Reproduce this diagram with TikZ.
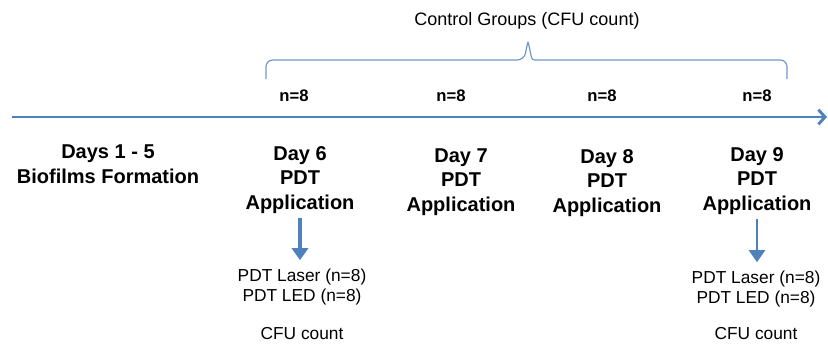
\documentclass[tikz,border=0pt]{standalone}
\usepackage{fontspec}
\setmainfont{Liberation Sans}
\usetikzlibrary{arrows.meta}
\definecolor{lineblue}{RGB}{79,129,189}
\definecolor{braceblue}{RGB}{112,152,204}

\begin{document}
\begin{tikzpicture}[x=0.75pt,y=-0.75pt,
  day/.style={align=center,font=\fontsize{15}{18.5}\selectfont\bfseries},
  small/.style={align=center,font=\fontsize{13}{15}\selectfont},
  count/.style={font=\fontsize{12.5}{14}\selectfont\bfseries},
  timeline/.style={-{Straight Barb[length=5pt,width=11pt]},line width=2.2pt,draw=lineblue},
  down/.style={-{Triangle[length=9pt,width=12pt]},line width=2.4pt,draw=lineblue,shorten >=3pt},
  brace/.style={draw=braceblue,line width=0.9pt,rounded corners=5pt}
]
  \useasboundingbox (0,0) rectangle (828,343);

  % control group bracket
  \node[small,font=\fontsize{13.5}{15}\selectfont] (ctrl) at (527,21) {Control Groups (CFU count)};
  \draw[brace] (266,79) -- (266,60) -- (524,60) [rounded corners=2pt] -- (528,41) -- (532,60) [rounded corners=5pt] -- (787,60) -- (787,79);

  % group sizes above the time axis
  \node[count] (n6) at (294,96) {n=8};
  \node[count] (n7) at (451,96) {n=8};
  \node[count] (n8) at (602,96) {n=8};
  \node[count] (n9) at (757,96) {n=8};

  % time axis
  \coordinate (t0) at (12,117);
  \coordinate (t1) at (827,117);
  \draw[timeline] (t0) -- (t1);

  % days
  \node[day] (d15) at (108,164) {Days 1 - 5\\Biofilms Formation};
  \node[day] (d6) at (300,180) {Day 6\\PDT\\Application};
  \node[day] (d7) at (461,182) {Day 7\\PDT\\Application};
  \node[day] (d8) at (607,183) {Day 8\\PDT\\Application};
  \node[day] (d9) at (757,181) {Day 9\\PDT\\Application};

  % treated groups
  \node[small] (res6) at (302,287) {PDT Laser (n=8)\\PDT LED (n=8)};
  \node[small] (res9) at (756,289) {PDT Laser (n=8)\\PDT LED (n=8)};
  \node[small,inner sep=1pt] (cfu6) at (302,334) {CFU count};
  \node[small,inner sep=1pt] (cfu9) at (756,334) {CFU count};

  \draw[down] (d6.south) -- (d6.south |- res6.north);
  \draw[down,line width=1.8pt] (d9.south) -- (d9.south |- res9.north);
\end{tikzpicture}
\end{document}
